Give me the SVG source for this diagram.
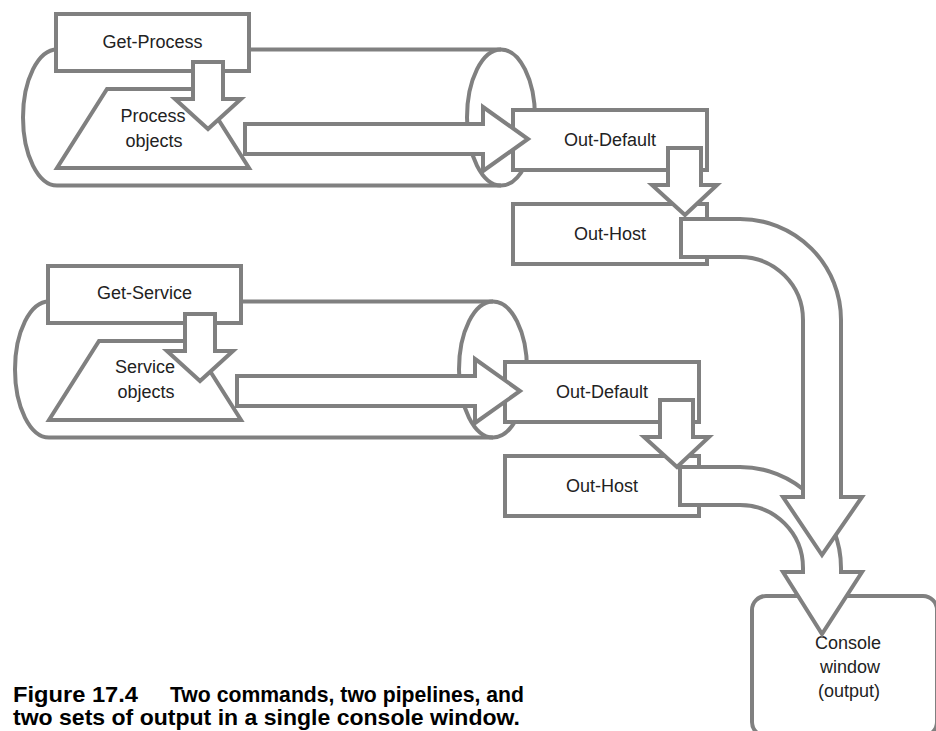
<svg xmlns="http://www.w3.org/2000/svg" width="936" height="731" viewBox="0 0 936 731">
<style>
.s{fill:#fff;stroke:#808080;stroke-width:4;stroke-linejoin:miter}
.n{fill:none;stroke:#808080;stroke-width:4}
.t{font-family:"Liberation Sans",Arial,sans-serif;font-size:18px;fill:#222;text-anchor:middle}
.c{font-family:"Liberation Sans",Arial,sans-serif;font-size:22px;font-weight:bold;fill:#000}
</style>
<defs>
<g id="pipe">
<path class="n" d="M57,49.5 A34,68 0 0 0 57,185.5 H501 M57,49.5 H501"/>
<ellipse class="n" cx="501" cy="117.5" rx="34" ry="68"/>
</g>
</defs>

<!-- Pipeline 1 -->
<g id="pipeline1">
<use href="#pipe"/>
<g id="get-process">
<rect class="s" x="56" y="14" width="193" height="57"/>
<text class="t" x="152.5" y="48">Get-Process</text>
</g>
<g id="process-objects">
<polygon class="s" points="107,89 199,89 249,168 57,168"/>
<text class="t" x="153" y="122">Process</text>
<text class="t" x="154" y="147">objects</text>
</g>
<g id="out-default-1">
<rect class="s" x="513" y="110" width="194" height="60"/>
<text class="t" x="610" y="146">Out-Default</text>
</g>
<g id="out-host-1">
<rect class="s" x="513" y="204" width="194" height="60"/>
<text class="t" x="610" y="240">Out-Host</text>
</g>
<g id="connectors-1">
<polygon class="s" points="193,62 223,62 223,99 241,99 208,129 175,99 193,99"/>
<polygon class="s" points="245,124 483,124 483,107 528,139 483,171 483,154 245,154"/>
<polygon class="s" points="668,148 701,148 701,185 717,185 685,215 652,185 668,185"/>
</g>
</g>

<!-- Pipeline 2 -->
<g id="pipeline2" transform="translate(-8,252)">
<use href="#pipe"/>
<g id="get-service">
<rect class="s" x="56" y="14" width="193" height="57"/>
<text class="t" x="152.5" y="47">Get-Service</text>
</g>
<g id="service-objects">
<polygon class="s" points="107,89 199,89 249,168 57,168"/>
<text class="t" x="153" y="121">Service</text>
<text class="t" x="154" y="146">objects</text>
</g>
<g id="out-default-2">
<rect class="s" x="513" y="110" width="194" height="60"/>
<text class="t" x="610" y="146">Out-Default</text>
</g>
<g id="out-host-2">
<rect class="s" x="513" y="204" width="194" height="60"/>
<text class="t" x="610" y="240">Out-Host</text>
</g>
<g id="connectors-2">
<polygon class="s" points="193,62 223,62 223,99 241,99 208,129 175,99 193,99"/>
<polygon class="s" points="245,124 483,124 483,107 528,139 483,171 483,154 245,154"/>
<polygon class="s" points="668,148 701,148 701,185 717,185 685,215 652,185 668,185"/>
</g>
</g>

<g id="console-window">
<rect class="s" x="752" y="596" width="185" height="140" rx="14"/>
<text class="t" x="848" y="649">Console</text>
<text class="t" x="850" y="673">window</text>
<text class="t" x="849" y="697">(output)</text>
</g>

<g id="connectors-output">
<path class="s" d="M680,467 H740 A101,101 0 0 1 841,568 V572 H862 L822,634 L783,572 H803 V568 A63,63 0 0 0 740,505 H680 Z"/>
<path class="s" d="M681,219 H740 A101,101 0 0 1 841,320 V497 H862 L822,555 L783,497 H803 V320 A63,63 0 0 0 740,257 H681 Z"/>
</g>

<g id="caption">
<text class="c" x="13" y="702" textLength="125" lengthAdjust="spacingAndGlyphs">Figure 17.4</text>
<text class="c" x="170" y="702" textLength="354" lengthAdjust="spacingAndGlyphs">Two commands, two pipelines, and</text>
<text class="c" x="13" y="725" textLength="507" lengthAdjust="spacingAndGlyphs">two sets of output in a single console window.</text>
</g>
</svg>
